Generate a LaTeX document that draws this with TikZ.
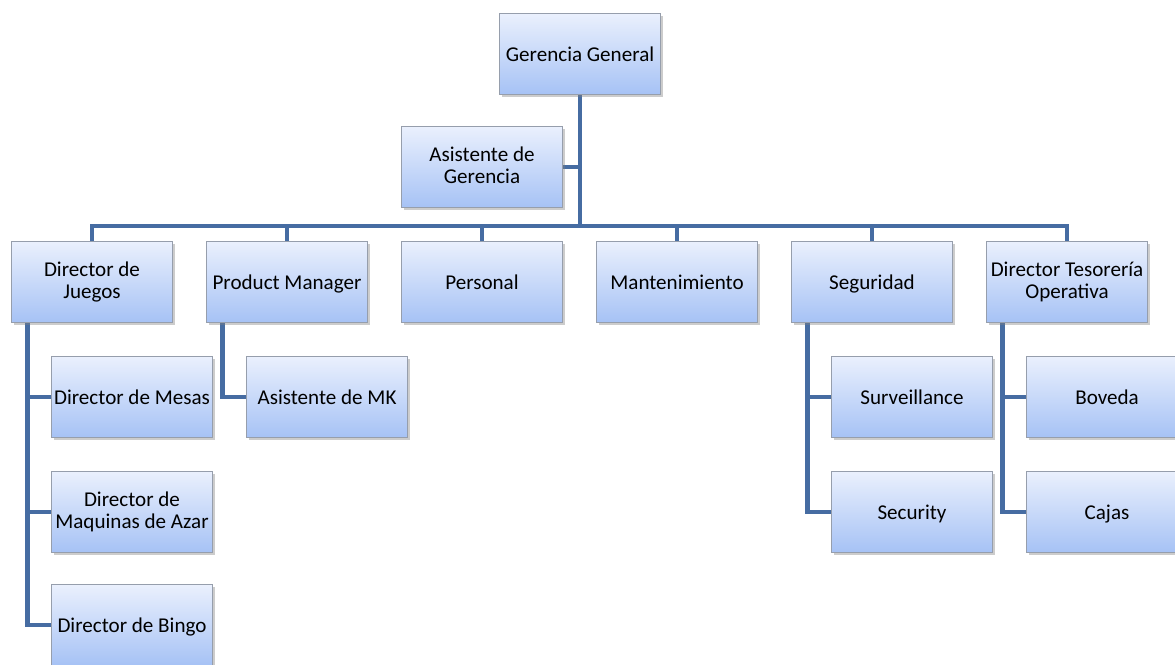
\documentclass[tikz,border=0pt]{standalone}
\usepackage{fontspec}
\setmainfont{Carlito}
\usepackage{tikz}
\usetikzlibrary{shadows}
\usetikzlibrary{backgrounds}
\newcommand \unitstrut {\rule[-2pt]{0pt}{12.6pt}}
\definecolor{boxtop}{RGB}{234,240,253}
\definecolor{boxbottom}{RGB}{166,194,245}
\definecolor{boxline}{RGB}{150,158,172}
\definecolor{linkblue}{RGB}{70,108,162}
\tikzstyle{unit}=[rectangle,draw=boxline,line width=0.4pt,top color=boxtop,bottom color=boxbottom,
  drop shadow={opacity=0.4,shadow xshift=1.2pt,shadow yshift=-1.6pt},
  minimum width=3.22cm,minimum height=1.62cm,inner sep=1pt,align=center,
  font=\fontsize{12}{12.6}\selectfont,
  execute at begin node=\unitstrut,execute at end node=\unitstrut]
\tikzstyle{link}=[draw=linkblue,line width=2.8pt]
\tikzset{every picture/.style={
    x=0.02cm,y=-0.02cm
  }
}

\begin{document}
\begin{tikzpicture}
          \useasboundingbox (0,0) rectangle (1175,664);
          \clip (0,0) rectangle (1175,664);
          \node[unit] at (580,54) (gg) {Gerencia General};
          \node[unit] at (482,167) (ag) {Asistente de\\Gerencia};
          \coordinate (bus) at (580,226);
          \node[unit] at (92,282) (dj) {Director de\\Juegos};
          \node[unit] at (287,282) (pm) {Product Manager};
          \node[unit] at (482,282) (pers) {Personal};
          \node[unit] at (677,282) (mant) {Mantenimiento};
          \node[unit] at (872,282) (seg) {Seguridad};
          \node[unit] at (1067,282) (dt) {Director Tesorería\\Operativa};
          \node[unit] at (132,397) (dm) {Director de Mesas};
          \node[unit] at (132,512) (dma) {Director de\\Maquinas de Azar};
          \node[unit] at (132,625) (db) {Director de Bingo};
          \node[unit] at (327,397) (amk) {Asistente de MK};
          \node[unit] at (912,397) (surv) {Surveillance};
          \node[unit] at (912,512) (sec) {Security};
          \node[unit] at (1107,397) (bov) {Boveda};
          \node[unit] at (1107,512) (caj) {Cajas};
          \begin{scope}[on background layer]
            \draw[link] (gg) -- (bus);
            \draw[link] (ag.east) -- (ag.east -| gg);
            \draw[link] (dj.north) |- (bus) -| (dt.north);
            \draw[link] (bus -| pm) -- (pm.north);
            \draw[link] (bus -| pers) -- (pers.north);
            \draw[link] (bus -| mant) -- (mant.north);
            \draw[link] (bus -| seg) -- (seg.north);
            \draw[link] ([xshift=0.32cm]dj.south west) |- (db.west);
            \draw[link] ([xshift=0.32cm]dj.south west |- dm.west) -- (dm.west);
            \draw[link] ([xshift=0.32cm]dj.south west |- dma.west) -- (dma.west);
            \draw[link] ([xshift=0.32cm]pm.south west) |- (amk.west);
            \draw[link] ([xshift=0.32cm]seg.south west) |- (sec.west);
            \draw[link] ([xshift=0.32cm]seg.south west |- surv.west) -- (surv.west);
            \draw[link] ([xshift=0.32cm]dt.south west) |- (caj.west);
            \draw[link] ([xshift=0.32cm]dt.south west |- bov.west) -- (bov.west);
          \end{scope}
        \end{tikzpicture}
\end{document}
